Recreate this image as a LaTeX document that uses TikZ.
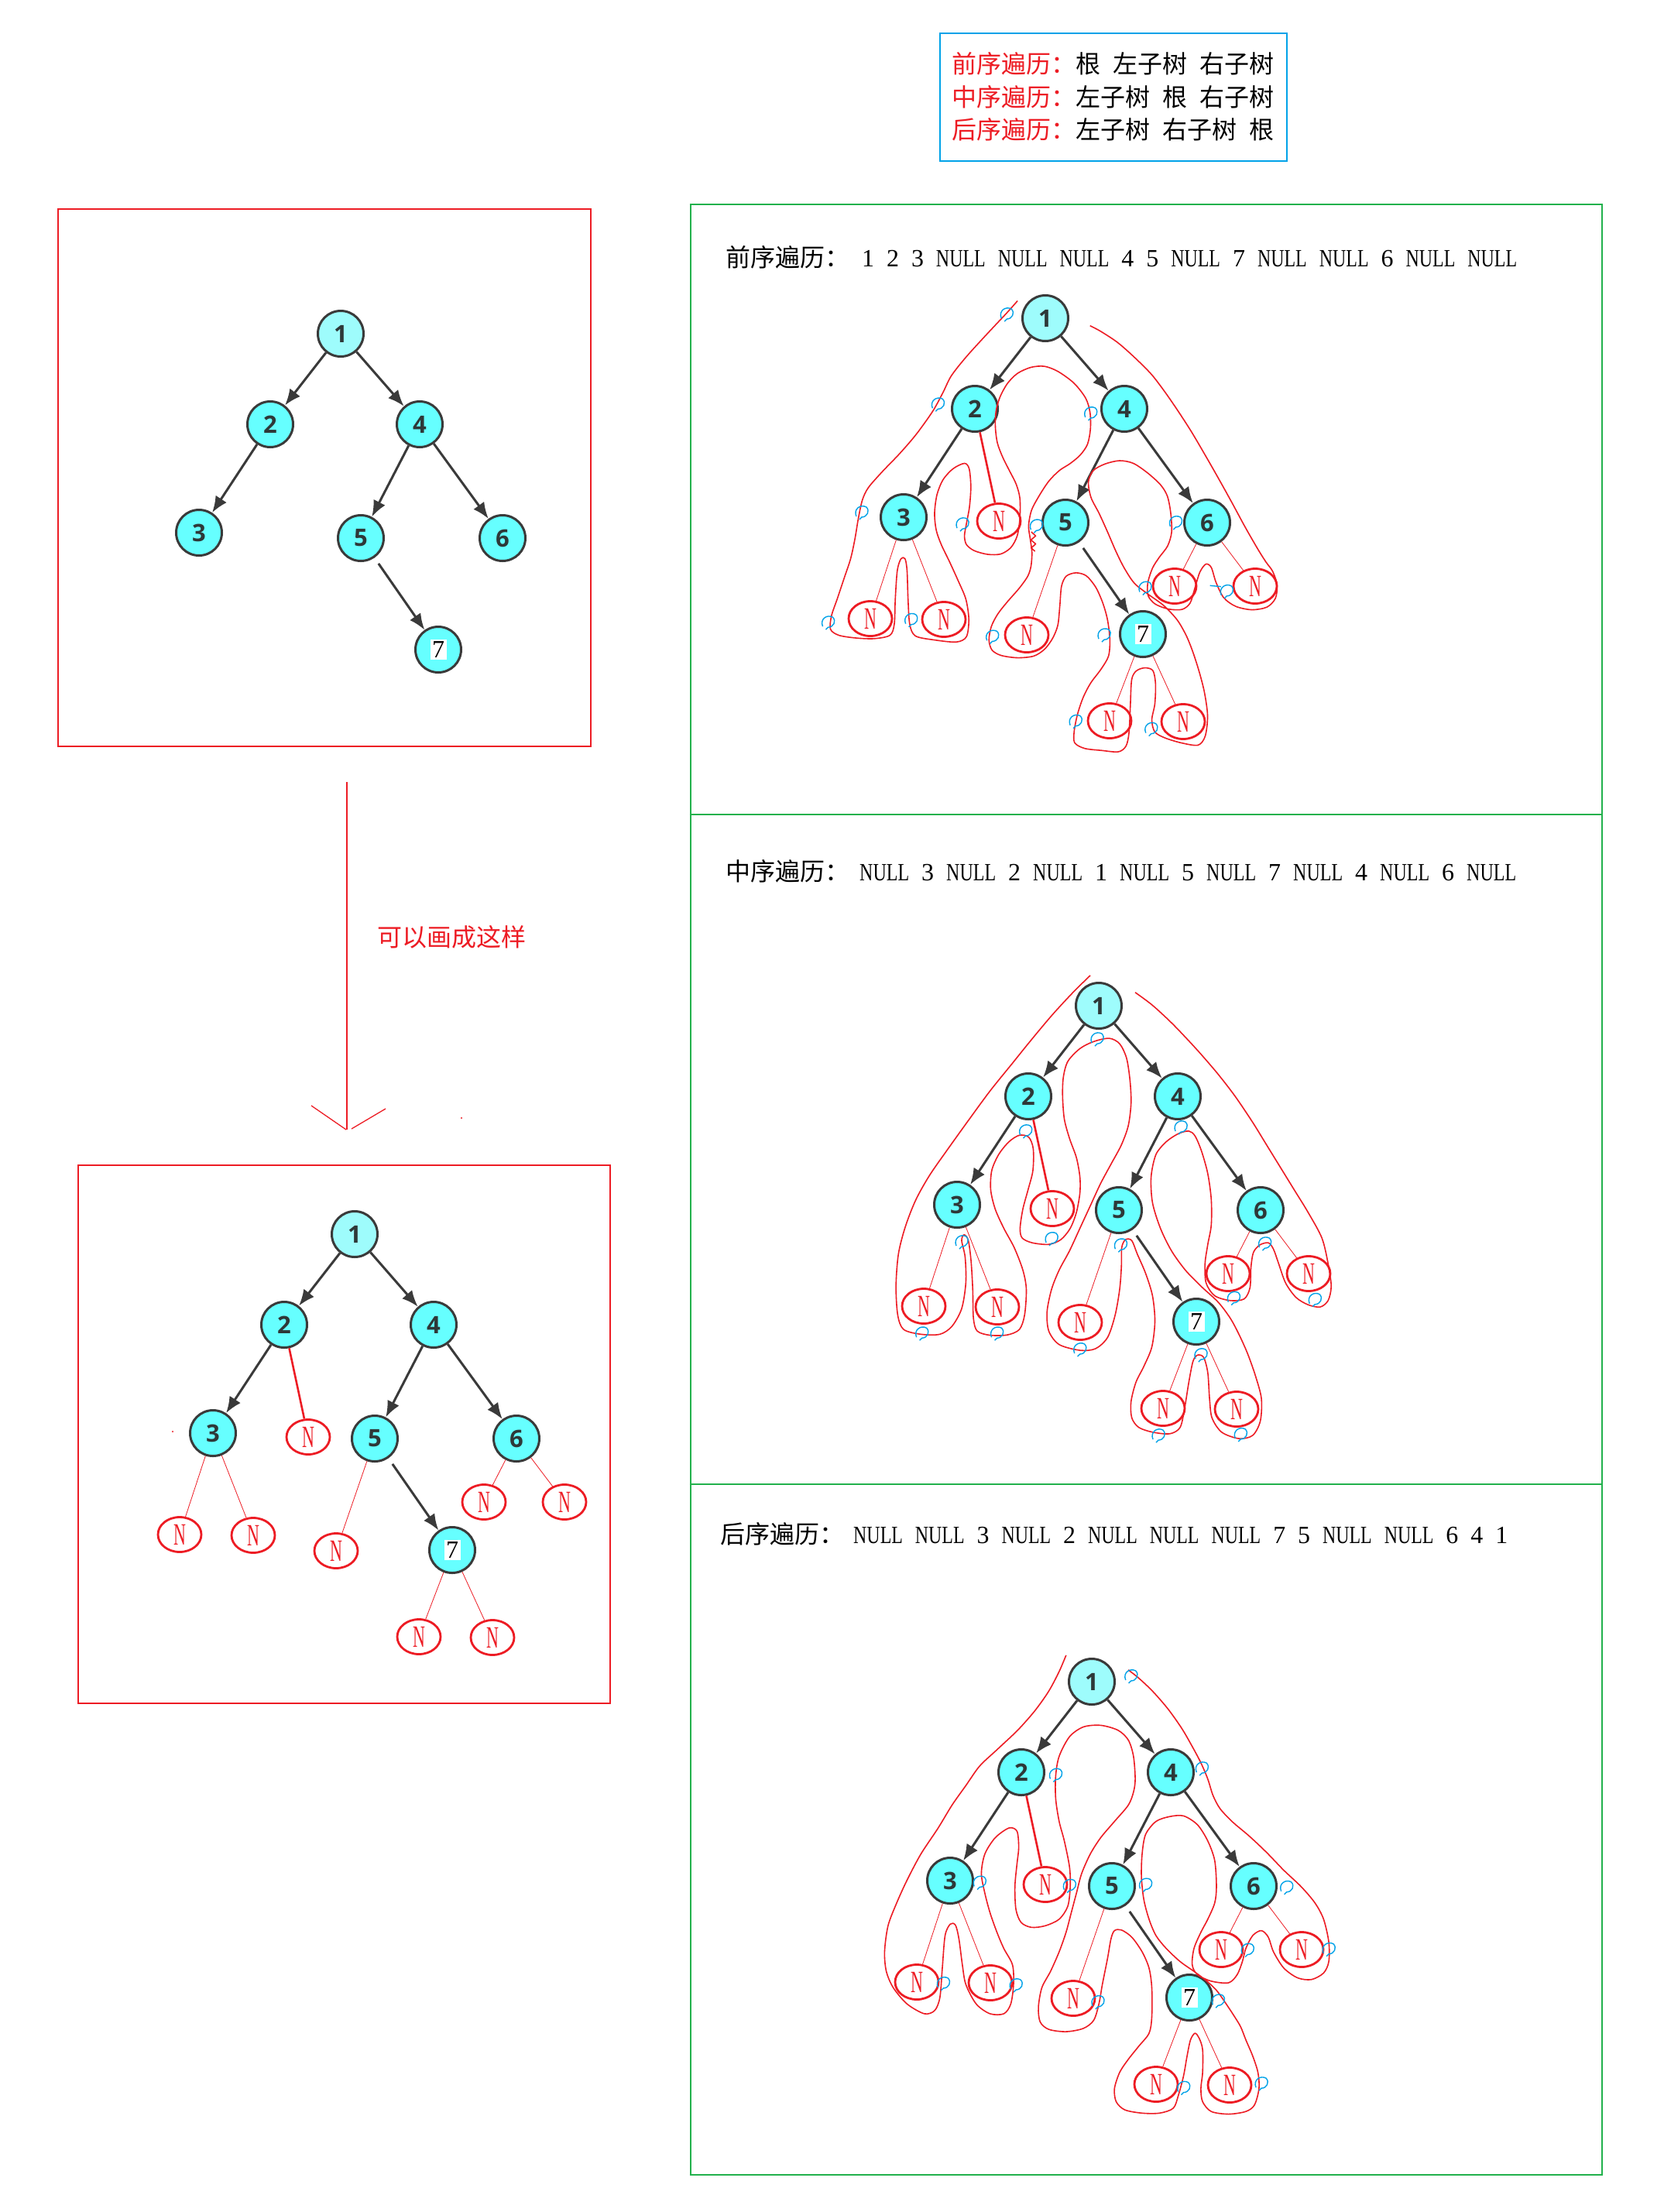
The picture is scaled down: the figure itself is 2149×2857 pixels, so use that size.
\documentclass[tikz,border=0pt]{standalone}
\usepackage{graphicx}
\usepackage{fontspec}
\setmainfont{Liberation Serif}
\newfontfamily\cjk{Noto Sans CJK SC}
\newfontfamily\numfont{Open Sans}
\usetikzlibrary{shapes.geometric,arrows.meta}
\definecolor{ndfill}{HTML}{66FFFF}
\definecolor{rootfill}{HTML}{9EFCFC}
\definecolor{ndline}{HTML}{3A3A3A}
\definecolor{ndtext}{HTML}{2E3838}
\definecolor{nred}{HTML}{ED1C24}
\definecolor{cblue}{HTML}{00A2E8}
\definecolor{gbox}{HTML}{22B14C}
\newcommand\NL{\scalebox{0.75}[1]{NULL}}
\newcommand\Nt{\scalebox{0.55}[1]{N}}
\tikzset{
 nd/.style={circle, draw=ndline, line width=3pt, fill=ndfill, minimum size=59pt, inner sep=0pt, text=ndtext, font=\numfont\bfseries\fontsize{31}{31}\selectfont},
 rootnd/.style={nd, fill=rootfill},
 sevenlab/.style={fill=white, inner sep=2.5pt, text=black, font=\fontsize{32}{32}\selectfont},
 arr/.style={draw=ndline, line width=3pt, -{Latex[length=21pt,width=17pt]}},
 nul/.style={ellipse, draw=nred, line width=2.8pt, minimum width=56pt, minimum height=45pt, inner sep=0pt, text=nred, font=\fontsize{40}{40}\selectfont},
 nlink/.style={draw=nred, line width=0.8pt},
 nthick/.style={draw=nred, line width=2.6pt},
 contour/.style={draw=nred, line width=1.6pt, line join=round},
 curlst/.style={draw=cblue, line width=1.4pt},
 curl/.pic={\draw[curlst] (-7,6) .. controls (-11,-4) and (-1,-10) .. (6,-6) .. controls (11,-1) and (7,7) .. (0,7) -- (-3,10);},
 boxr/.style={draw=nred, line width=1.2pt},
 boxg/.style={draw=gbox, line width=1.5pt},
 cjktext/.style={anchor=base west, inner sep=0pt, font=\cjk\fontsize{32}{32}\selectfont},
 seqtext/.style={anchor=base west, inner sep=0pt, font=\fontsize{32}{32}\selectfont},
}
\newcommand\bintree[3]{%
\begin{scope}[shift={(#2,#3)}]
\node[rootnd] (#1n1) at (0,0) {1};
\node[nd] (#1n2) at (-91,117) {2};
\node[nd] (#1n4) at (102,117) {4};
\node[nd] (#1n3) at (-183,257) {3};
\node[nd] (#1n5) at (26,264) {5};
\node[nd] (#1n6) at (209,264) {6};
\node[nd] (#1n7) at (126,408) {};
\node[sevenlab] (#1s7) at (#1n7) {7};
\draw[arr] (#1n1) -- (#1n2);
\draw[arr] (#1n1) -- (#1n4);
\draw[arr] (#1n2) -- (#1n3);
\draw[arr] (#1n4) -- (#1n5);
\draw[arr] (#1n4) -- (#1n6);
\draw[arr, shorten <=9pt] (#1n5) -- (#1n7);
\end{scope}}
\newcommand\nulltree[3]{%
\begin{scope}[shift={(#2,#3)}]
\node[nul] (#1a) at (-226,388) {\Nt};
\node[nul] (#1b) at (-131,389) {\Nt};
\node[nul] (#1c) at (-60,262) {\Nt};
\node[nul] (#1d) at (-24,409) {\Nt};
\node[nul] (#1e) at (167,346) {\Nt};
\node[nul] (#1f) at (271,346) {\Nt};
\node[nul] (#1g) at (83,520) {\Nt};
\node[nul] (#1h) at (178,521) {\Nt};
\draw[nlink] (#1n3) -- (#1a);
\draw[nlink] (#1n3) -- (#1b);
\draw[nthick] (#1n2) -- (#1c);
\draw[nlink] (#1n5) -- (#1d);
\draw[nlink] (#1n6) -- (#1e);
\draw[nlink] (#1n6) -- (#1f);
\draw[nlink] (#1n7) -- (#1g);
\draw[nlink] (#1n7) -- (#1h);
\end{scope}}
\begin{document}
\begin{tikzpicture}[x=1pt,y=-1pt]
\fill[white] (0,0) rectangle (2149,2857);
\useasboundingbox (0,0) rectangle (2149,2857);

% legend
\draw[draw=cblue, line width=1.2pt] (1214,43) rectangle (1662,208);
\node[cjktext] (lg1) at (1229,94) {\textcolor{nred}{前序遍历：}根\hspace{16pt}左子树\hspace{16pt}右子树};
\node[cjktext] (lg2) at (1229,137) {\textcolor{nred}{中序遍历：}左子树\hspace{16pt}根\hspace{16pt}右子树};
\node[cjktext] (lg3) at (1229,179) {\textcolor{nred}{后序遍历：}左子树\hspace{16pt}右子树\hspace{16pt}根};

% left boxes
\draw[boxr] (75,270) rectangle (763,964);
\draw[boxr] (101,1505) rectangle (788,2200);
\bintree{A}{440}{431}
\bintree{B}{458}{1594}
\nulltree{B}{458}{1594}
\fill[nred] (223,1849) circle (1.2);

% middle arrow
\coordinate (atop) at (448,1010);
\coordinate (atip) at (448,1459);
\draw[nred, line width=1.3pt] (atop) -- (atip);
\draw[nred, line width=1.3pt] (402,1428) -- (447,1459);
\draw[nred, line width=1.3pt] (454,1458) -- (498,1432);
\node[cjktext, text=nred] (lbl) at (487,1222) {可以画成这样};
\fill[nred] (596,1444) circle (1.2);

% right panel
\draw[boxg] (892,264) rectangle (2069,2809);
\draw[boxg] (892,1052) -- (2069,1052);
\draw[boxg] (892,1917) -- (2069,1917);

\node[cjktext] (t1) at (937,344) {前序遍历：};
\node[seqtext] (q1) at (1113,344) {\resizebox{846pt}{\height}{\spaceskip=16pt 1 2 3 \NL{} \NL{} \NL{} 4 5 \NL{} 7 \NL{} \NL{} 6 \NL{} \NL}};
\node[cjktext] (t2) at (937,1137) {中序遍历：};
\node[seqtext] (q2) at (1110,1137) {\resizebox{848pt}{\height}{\spaceskip=16pt \NL{} 3 \NL{} 2 \NL{} 1 \NL{} 5 \NL{} 7 \NL{} 4 \NL{} 6 \NL}};
\node[cjktext] (t3) at (930,1993) {后序遍历：};
\node[seqtext] (q3) at (1102,1993) {\resizebox{845pt}{\height}{\spaceskip=16pt \NL{} \NL{} 3 \NL{} 2 \NL{} \NL{} \NL{} 7 5 \NL{} \NL{} 6 4 1}};

\bintree{C}{1350}{411}
\nulltree{C}{1350}{411}
\bintree{D}{1419}{1299}
\nulltree{D}{1419}{1299}
\bintree{E}{1410}{2172}
\nulltree{E}{1410}{2172}

% section 1 contour
\begin{scope}[shift={(1040,340)}, scale=0.43367]
\draw[contour] plot[smooth] coordinates {(632,112) (600,148) (540,212) (480,278) (435,335) (410,385) (380,440) (330,510) (280,568) (230,620) (188,668) (170,705) (158,760) (148,820) (135,880) (115,940) (95,1000) (78,1050) (75,1090) (100,1108) (150,1116) (205,1118) (252,1108) (265,1075) (268,1000) (274,915) (285,880) (297,880) (303,915) (306,1000) (311,1075) (328,1110) (385,1122) (450,1128) (480,1112) (487,1060) (478,1000) (455,945) (430,890) (405,838) (390,795) (385,745) (392,690) (410,645) (440,612) (474,596) (488,612) (493,665) (489,725) (480,775) (474,812) (480,838) (503,856) (543,867) (582,866) (612,847) (631,812) (639,760) (639,700) (628,658) (608,618) (588,578) (572,535) (566,487) (568,440) (580,398) (602,358) (632,328) (672,310) (712,307) (752,322) (800,357) (835,402) (848,445) (849,495) (840,540) (818,572) (788,597) (757,617) (726,648) (698,690) (674,735) (665,782) (670,822) (675,862) (672,903) (662,933) (637,968) (602,1008) (573,1045) (554,1082) (547,1122) (556,1152) (583,1168) (632,1175) (680,1170) (712,1150) (736,1118) (752,1078) (758,1020) (763,962) (777,932) (806,922) (837,931) (865,965) (886,1012) (900,1062) (907,1120) (903,1170) (880,1210) (850,1250) (828,1292) (811,1342) (801,1392) (802,1428) (832,1445) (882,1451) (932,1455) (955,1438) (964,1398) (968,1318) (972,1240) (986,1214) (1011,1205) (1035,1213) (1043,1252) (1041,1312) (1032,1360) (1041,1396) (1072,1414) (1122,1429) (1170,1435) (1191,1408) (1198,1348) (1189,1280) (1174,1220) (1155,1160) (1135,1110) (1108,1063) (1068,1020) (1020,985) (980,953) (950,908) (925,858) (900,800) (875,745) (851,698) (843,652) (857,618) (892,598) (936,588) (977,596) (1020,625) (1058,660) (1078,693) (1088,742) (1091,800) (1079,842) (1054,876) (1034,908) (1020,952) (1021,990) (1042,1015) (1082,1030) (1122,1031) (1146,1012) (1160,968) (1175,920) (1193,896) (1209,906) (1223,950) (1246,996) (1282,1022) (1330,1032) (1375,1024) (1400,998) (1405,958) (1392,918) (1372,890) (1348,852) (1310,786) (1270,712) (1230,640) (1190,570) (1150,502) (1110,440) (1070,382) (1030,330) (980,280) (930,236) (880,203) (848,186)};
\draw[contour] (673,800) -- (686,812) -- (672,824) -- (686,836) -- (673,848) -- (684,858);
\draw[curlst] (1205,960) -- (1238,963);
\foreach \x/\y in {600/150, 395/418, 168/740, 68/1068, 315/1060, 468/775, 850/445, 688/780, 557/1110, 890/1105, 805/1362, 1030/1385, 1103/770, 1012/965, 1255/975}
  \pic at (\x,\y) {curl};
\end{scope}

% section 2 contour
\begin{scope}[shift={(1100,1230)}, xscale=0.44643, yscale=0.41454]
\draw[contour] plot[smooth] coordinates {(690,72) (640,125) (580,195) (520,272) (460,352) (400,432) (340,520) (280,610) (225,695) (185,772) (155,855) (135,940) (128,1040) (133,1130) (150,1175) (200,1190) (255,1190) (290,1165) (318,1110) (330,1030) (328,950) (318,898) (325,880) (337,897) (345,960) (350,1050) (352,1140) (363,1180) (400,1193) (450,1192) (485,1175) (500,1130) (505,1050) (495,990) (470,920) (440,860) (415,800) (402,740) (405,680) (425,630) (455,590) (485,570) (512,576) (525,612) (524,680) (510,740) (495,800) (487,860) (493,890) (522,905) (570,910) (605,895) (632,860) (650,810) (660,750) (660,700) (650,640) (630,580) (615,520) (610,450) (612,390) (625,340) (660,300) (700,278) (745,268) (775,285) (795,330) (805,400) (808,470) (800,540) (780,600) (750,660) (720,720) (690,790) (660,860) (630,930) (600,990) (578,1050) (565,1120) (570,1180) (600,1222) (660,1240) (705,1235) (740,1200) (762,1130) (775,1050) (780,980) (781,920) (792,895) (810,898) (826,940) (850,1000) (870,1070) (877,1150) (868,1230) (845,1290) (822,1340) (808,1400) (810,1450) (830,1480) (870,1495) (920,1500) (950,1480) (963,1420) (975,1340) (987,1275) (1000,1255) (1018,1262) (1030,1310) (1035,1390) (1042,1450) (1070,1495) (1120,1515) (1160,1505) (1182,1460) (1185,1390) (1168,1320) (1145,1250) (1120,1190) (1095,1140) (1060,1090) (1010,1040) (965,990) (925,930) (893,860) (870,780) (866,700) (880,630) (910,590) (945,565) (975,557) (993,572) (1012,620) (1030,690) (1040,770) (1040,850) (1030,910) (1022,970) (1025,1030) (1050,1070) (1095,1085) (1135,1080) (1152,1045) (1155,980) (1162,935) (1180,912) (1205,905) (1220,925) (1235,970) (1255,1030) (1285,1075) (1320,1098) (1355,1105) (1378,1085) (1387,1040) (1378,970) (1360,890) (1320,810) (1280,740) (1240,670) (1200,600) (1160,530) (1110,450) (1060,380) (1000,305) (930,225) (870,165) (820,125)};
\foreach \x/\y in {710/268, 503/555, 578/890, 318/900, 203/1185, 420/1185, 660/1235, 778/910, 952/543, 1010/1252, 887/1503, 1125/1500, 1105/1075, 1195/905, 1340/1080}
  \pic at (\x,\y) {curl};
\end{scope}

% section 3 contour
\begin{scope}[shift={(1100,2100)}, xscale=0.44643, yscale=0.42092]
\draw[contour] plot[smooth] coordinates {(620,90) (600,140) (570,200) (530,260) (480,320) (420,380) (370,430) (330,490) (290,550) (250,620) (200,700) (160,780) (130,850) (105,920) (95,1000) (100,1060) (120,1110) (160,1160) (210,1190) (240,1180) (255,1140) (262,1050) (270,950) (285,915) (300,918) (310,960) (320,1040) (330,1100) (360,1160) (400,1190) (440,1190) (460,1160) (468,1100) (465,1040) (440,990) (420,940) (400,880) (385,820) (375,760) (385,700) (415,650) (455,620) (478,630) (483,680) (478,730) (472,800) (475,870) (490,910) (520,925) (560,920) (600,900) (625,860) (632,800) (630,740) (615,660) (600,600) (590,530) (590,460) (600,400) (630,340) (670,310) (720,305) (770,320) (800,350) (815,400) (820,470) (815,510) (800,550) (760,600) (720,650) (690,700) (665,760) (650,820) (635,880) (620,940) (600,1000) (575,1060) (550,1110) (540,1170) (545,1215) (570,1238) (620,1245) (670,1235) (700,1210) (715,1160) (725,1100) (740,1020) (750,960) (760,935) (780,933) (810,955) (840,1000) (860,1050) (868,1110) (868,1200) (860,1250) (830,1290) (800,1330) (775,1370) (760,1420) (765,1460) (790,1485) (840,1495) (890,1495) (930,1480) (945,1440) (960,1380) (970,1320) (980,1270) (993,1250) (1005,1265) (1015,1300) (1015,1370) (1010,1420) (1015,1460) (1040,1490) (1090,1498) (1140,1490) (1165,1470) (1178,1420) (1175,1370) (1160,1320) (1140,1270) (1125,1230) (1105,1195) (1080,1155) (1055,1118) (1025,1088) (990,1060) (950,1030) (910,990) (880,950) (860,900) (845,840) (838,770) (840,700) (850,640) (880,600) (920,585) (960,583) (1000,610) (1030,660) (1050,720) (1055,800) (1050,850) (1030,900) (1010,940) (990,990) (985,1040) (1000,1070) (1040,1090) (1090,1095) (1115,1070) (1130,1030) (1140,990) (1160,950) (1185,935) (1205,955) (1220,1000) (1250,1050) (1290,1080) (1330,1085) (1365,1065) (1380,1030) (1380,970) (1365,900) (1340,850) (1300,800) (1250,750) (1200,695) (1150,645) (1100,600) (1065,560) (1045,520) (1030,470) (1010,420) (985,370) (955,315) (915,255) (870,200) (830,160) (800,135)};
\foreach \x/\y in {808/152, 590/455, 370/785, 265/1095, 475/1100, 630/795, 850/792, 712/1152, 1013/435, 1060/1148, 960/1415, 1185/1402, 1145/992, 1258/800, 1380/990}
  \pic at (\x,\y) {curl};
\end{scope}
\end{tikzpicture}
\end{document}
